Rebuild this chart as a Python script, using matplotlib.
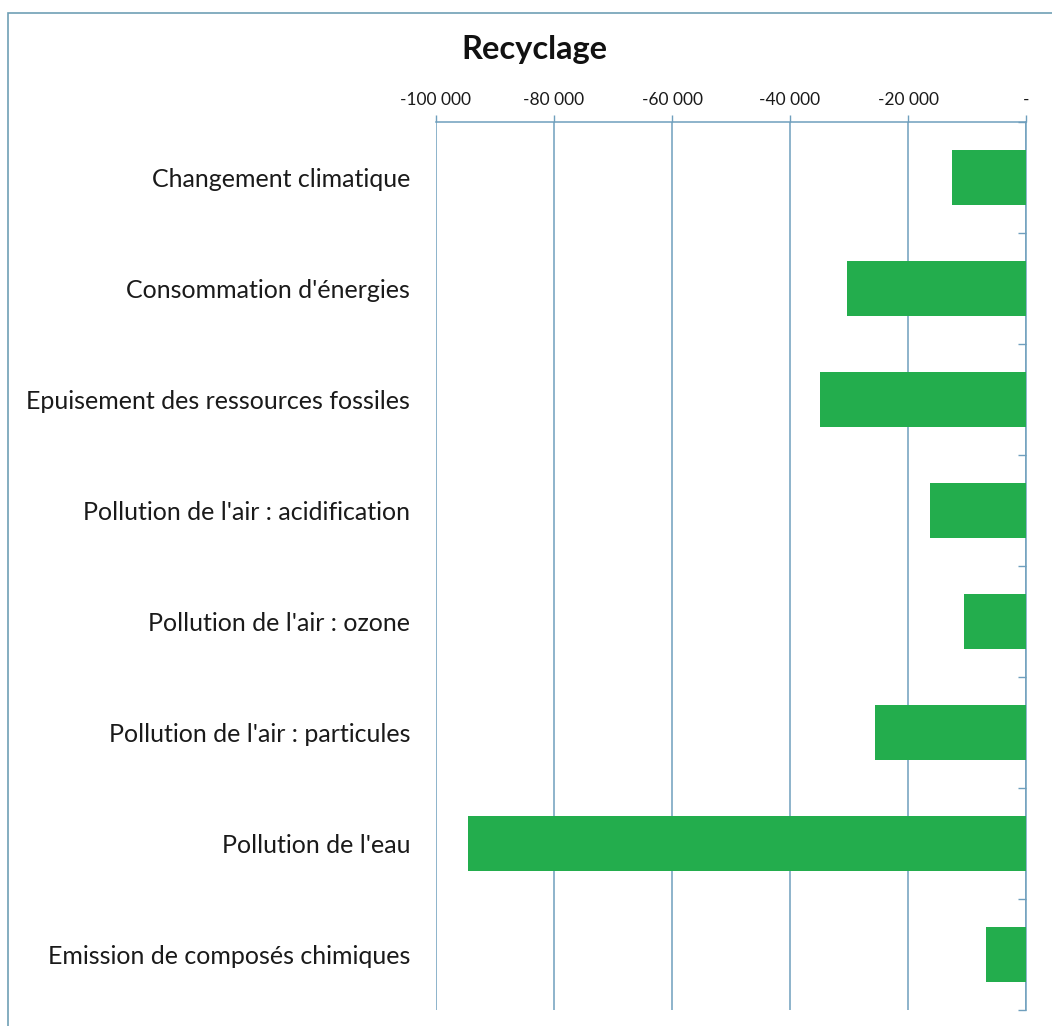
import matplotlib
matplotlib.use("Agg")
import matplotlib.pyplot as plt
from matplotlib.ticker import FuncFormatter, FixedLocator
from matplotlib.patches import Rectangle

categories = [
    "Changement climatique",
    "Consommation d'énergies",
    "Epuisement des ressources fossiles",
    "Pollution de l'air : acidification",
    "Pollution de l'air : ozone",
    "Pollution de l'air : particules",
    "Pollution de l'eau",
    "Emission de composés chimiques",
]
values = [-12500, -30400, -34900, -16300, -10500, -25600, -94600, -6800]
x_ticks = [-100000, -80000, -60000, -40000, -20000, 0]

bar_color = "#23ad4d"
axis_color = "#6f9fbd"

plt.rcParams["font.family"] = ["Lato", "DejaVu Sans"]

W, H = 1052, 1026
fig = plt.figure(figsize=(W / 100, H / 100), dpi=100)
fig.patch.set_facecolor("white")

# chart frame (top and left edges visible)
fig.add_artist(Rectangle((8 / W, -0.1), 1.2, (H - 13) / H + 0.1,
                         transform=fig.transFigure, fill=False,
                         edgecolor="#6f9fb5", linewidth=1.2))

ax = fig.add_axes([436 / W, 16 / H, (1026 - 436) / W, (1010 - 122) / H])

ypos = list(range(len(categories)))
ax.barh(ypos, values, height=0.5, color=bar_color, zorder=3)

ax.set_xlim(-100000, 0)
ax.set_ylim(len(categories) - 0.5, -0.5)

ax.xaxis.set_major_locator(FixedLocator(x_ticks))


def fmt(v, pos):
    if v == 0:
        return "-"
    s = f"{abs(int(v)):,}".replace(",", " ")
    return "-" + s


ax.xaxis.set_major_formatter(FuncFormatter(fmt))
ax.xaxis.tick_top()
ax.tick_params(axis="x", which="major", top=True, bottom=False, direction="out",
               length=5, width=1, color=axis_color, labelsize=12.5, pad=5,
               labelcolor="#1a1a1a")
ax.grid(axis="x", color=axis_color, linewidth=1.1, zorder=0)
ax.grid(axis="y", visible=False)

ax.set_yticks(ypos)
ax.set_yticklabels(categories, fontsize=18, color="#1a1a1a")
ax.set_yticks([i + 0.5 for i in range(-1, len(categories))], minor=True)
ax.tick_params(axis="y", which="major", left=False, right=False, pad=15)
ax.tick_params(axis="y", which="minor", left=False, right=True, direction="in",
               length=6, width=1, color=axis_color)

for side in ("left", "bottom"):
    ax.spines[side].set_visible(False)
for side in ("top", "right"):
    ax.spines[side].set_color(axis_color)
    ax.spines[side].set_linewidth(1.1)

fig.text(534 / W, 1 - 50 / H, "Recyclage", ha="center", va="center",
         fontsize=23.5, fontweight="bold", color="#111111")

fig.savefig("out.png", dpi=100, facecolor="white")
